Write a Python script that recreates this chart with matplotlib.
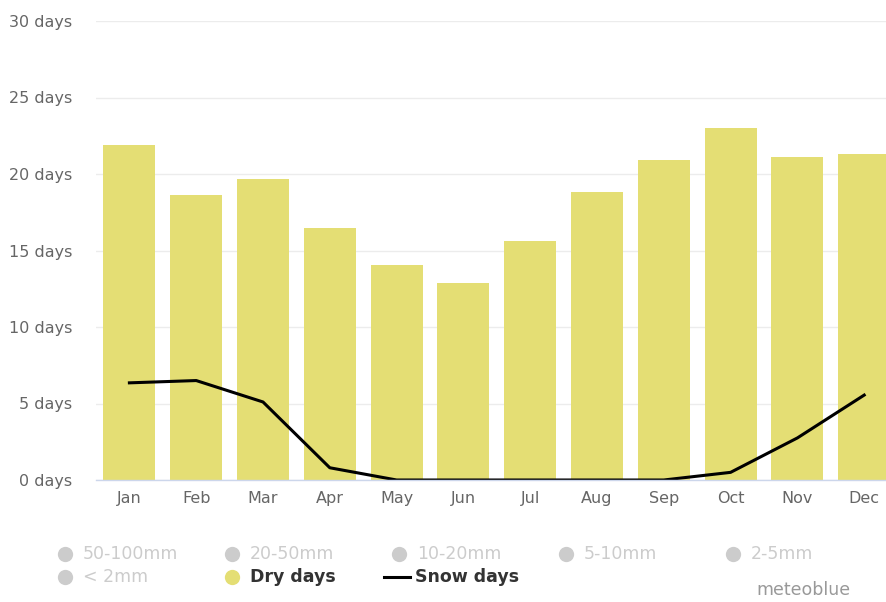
import matplotlib
matplotlib.use('Agg')
import matplotlib.pyplot as plt
from matplotlib.lines import Line2D
import numpy as np

months = ['Jan', 'Feb', 'Mar', 'Apr', 'May', 'Jun',
          'Jul', 'Aug', 'Sep', 'Oct', 'Nov', 'Dec']
dry_days = [21.9, 18.6, 19.7, 16.5, 14.05, 12.9,
            15.6, 18.8, 20.9, 23.0, 21.1, 21.3]
snow_days = [6.35, 6.5, 5.1, 0.8, 0.0, 0.0,
             0.0, 0.0, 0.0, 0.5, 2.75, 5.55]
yticks = [0, 5, 10, 15, 20, 25, 30]
legend_labels = ['50-100mm', '20-50mm', '10-20mm', '5-10mm', '2-5mm',
                 '< 2mm', 'Dry days', 'Snow days']

W, H = 886, 602
fig = plt.figure(figsize=(W / 100, H / 100), dpi=100)
# plot area runs past the right edge, like the original crop
ax = fig.add_axes([96 / W, 122 / H, 801.6 / W, (480 - 21) / H])

x = np.arange(len(months))
ax.bar(x, dry_days, width=0.78, color='#e4de74', zorder=2)
ax.plot(x, snow_days, color='black', lw=2.2, zorder=3)

ax.set_xlim(-0.5, 11.5)
ax.set_ylim(0, 30)
ax.set_yticks(yticks)
ax.set_yticklabels([f'{v} days' for v in yticks])
ax.set_xticks(x)
ax.set_xticklabels(months)
ax.yaxis.grid(True, color='#ececec', lw=1, zorder=0)
ax.set_axisbelow(True)
for s in ['top', 'right', 'left']:
    ax.spines[s].set_visible(False)
ax.spines['bottom'].set_color('#ccd6eb')
ax.spines['bottom'].set_linewidth(1)
ax.spines['bottom'].set_zorder(4)
ax.tick_params(axis='y', length=0, pad=17, labelsize=11.5, labelcolor='#666666')
ax.tick_params(axis='x', length=0, pad=8, labelsize=11.5, labelcolor='#666666')

# legend, laid out on a fixed grid like the highcharts one
col_w, row_h = 167, 23
x0, y0 = 65, 554
for i, lab in enumerate(legend_labels):
    cx = x0 + (i % 5) * col_w
    cy = y0 + (i // 5) * row_h
    fx, fy = cx / W, 1 - cy / H
    active = lab in ('Dry days', 'Snow days')
    if lab == 'Snow days':
        cx -= 2
        fig.add_artist(Line2D([(cx - 13) / W, (cx + 13) / W], [fy, fy],
                              color='black', lw=2.2, transform=fig.transFigure))
    else:
        mc = '#e4de74' if active else '#cccccc'
        fig.add_artist(Line2D([fx], [fy], marker='o', ms=11, color=mc,
                              mec='none', transform=fig.transFigure))
    fig.text((cx + 18) / W, fy, lab,
             color='#333333' if active else '#cccccc', fontsize=12.5,
             fontweight='bold' if active else 'normal',
             ha='left', va='center')

fig.text(851 / W, 3 / H, 'meteoblue', color='#999999', fontsize=12.5,
         ha='right', va='bottom')

fig.savefig('out.png', dpi=100)
